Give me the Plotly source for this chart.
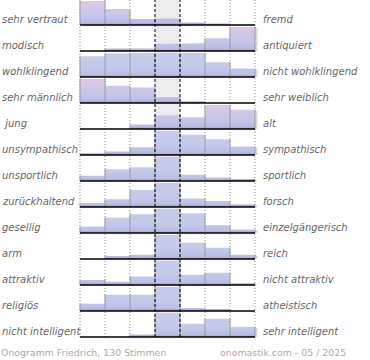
import plotly.graph_objects as go

left_labels = ["sehr vertraut", "modisch", "wohlklingend", "sehr männlich", " jung",
               "unsympathisch", "unsportlich", "zurückhaltend", "gesellig", "arm",
               "attraktiv", "religiös", "nicht intelligent"]
right_labels = ["fremd", "antiquiert", "nicht wohlklingend", "sehr weiblich", "alt",
                "sympathisch", "sportlich", "forsch", "einzelgängerisch", "reich",
                "nicht attraktiv", "atheistisch", "sehr intelligent"]
# relative shares per scale step (percent of the row's largest step)
values = [
    [100, 67, 25, 27, 10, 6, 0],
    [0, 10, 10, 29, 32, 53, 100],
    [86, 99, 100, 100, 100, 61, 35],
    [100, 72, 65, 24, 7, 0, 0],
    [0, 0, 19, 57, 49, 100, 80],
    [7, 15, 32, 100, 84, 66, 35],
    [22, 49, 57, 100, 26, 15, 8],
    [17, 32, 71, 100, 35, 25, 11],
    [27, 65, 78, 100, 82, 32, 15],
    [0, 12, 18, 100, 68, 47, 18],
    [21, 14, 35, 100, 43, 51, 7],
    [30, 68, 68, 100, 12, 8, 0],
    [0, 0, 10, 100, 55, 76, 43],
]
footer_left = "Onogramm Friedrich, 130 Stimmen"
footer_right = "onomastik.com - 05 / 2025"

n = len(values)
H = 24 / 26  # max bar height in row units
PX_L, PLOT_W = 78, 180
PLOT_H = 340
TOP = 337 / 26

fig = go.Figure()

shapes = [dict(type="rect", xref="x", yref="y", x0=3, x1=4, y0=0, y1=TOP,
               fillcolor="#ececec", line_width=0, layer="below")]
for gx in [0, 1, 2, 5, 6, 7]:
    shapes.append(dict(type="line", xref="x", yref="y", x0=gx, x1=gx, y0=0, y1=TOP,
                       line=dict(color="#8a8a8a", width=1, dash="1px,2px"), layer="below"))

ex, ey = [], []
sx, sy = [], []
for r, row in enumerate(values):
    base = n - 1 - r
    m = max(row)
    hs = [v / m * H for v in row]
    xs, ys = [0], [base]
    for k, h in enumerate(hs):
        xs += [k, k + 1]
        ys += [base + h, base + h]
    xs += [7, 0]
    ys += [base, base]
    pink = row[3] < m
    if pink:
        cs = [[0, "#9e90c8"], [0.1, "#bbbbe3"], [0.45, "#c6c8e9"], [1, "#e2c6e6"]]
    else:
        cs = [[0, "#9e90c8"], [0.1, "#bac0e5"], [0.45, "#c3caea"], [1, "#c6cdeb"]]
    fig.add_trace(go.Scatter(
        x=xs, y=ys, mode="lines", fill="toself", line=dict(width=0, color="rgba(0,0,0,0)"),
        fillgradient=dict(type="vertical", colorscale=cs, start=base, stop=base + H),
        hoverinfo="skip", showlegend=False))
    for k in range(8):
        left = hs[k - 1] if k > 0 else 0
        right = hs[k] if k < 7 else 0
        t = max(left, right)
        if t > 0:
            ex += [k, k, None]
            ey += [base, base + t, None]
    if hs[6] > 0:
        sx += [7 + 1.5 / 25, 7 + 1.5 / 25, None]
        sy += [base, base + hs[6] - 1 / 26, None]
    shapes.append(dict(type="line", xref="x", yref="y", x0=0, x1=7, y0=base, y1=base,
                       line=dict(color="black", width=1.5), layer="above"))

fig.add_trace(go.Scatter(x=sx, y=sy, mode="lines", line=dict(color="#d8d8d8", width=2),
                         hoverinfo="skip", showlegend=False))
fig.add_trace(go.Scatter(x=ex, y=ey, mode="lines", line=dict(color="#9a9a9a", width=1),
                         hoverinfo="skip", showlegend=False))

for gx in [3, 4]:
    shapes.append(dict(type="line", xref="x", yref="y", x0=gx, x1=gx, y0=0, y1=TOP,
                       line=dict(color="black", width=1, dash="3px,2px"), layer="above"))

label_font = dict(family="DejaVu Sans", size=10, color="#666666", style="italic")
annotations = []
for r in range(n):
    base = n - 1 - r
    yl = base + 5.5 / 26
    annotations.append(dict(x=(0 - PX_L) / PLOT_W, xref="paper", y=yl, yref="y",
                            text=left_labels[r], showarrow=False, xanchor="left",
                            yanchor="middle", font=label_font))
    annotations.append(dict(x=(261 - PX_L) / PLOT_W, xref="paper", y=yl, yref="y",
                            text=right_labels[r], showarrow=False, xanchor="left",
                            yanchor="middle", font=label_font))
foot_font = dict(family="DejaVu Sans", size=9.4, color="#aaaaaa")
annotations.append(dict(x=(-1 - PX_L) / PLOT_W, xref="paper", y=(PLOT_H - 352) / PLOT_H,
                        yref="paper", text=footer_left, showarrow=False, xanchor="left",
                        yanchor="middle", font=foot_font))
annotations.append(dict(x=(348 - PX_L) / PLOT_W, xref="paper", y=(PLOT_H - 352) / PLOT_H,
                        yref="paper", text=footer_right, showarrow=False, xanchor="right",
                        yanchor="middle", font=foot_font))

fig.update_layout(
    width=370, height=360,
    margin=dict(l=PX_L, r=370 - PX_L - PLOT_W, t=0, b=360 - PLOT_H),
    plot_bgcolor="white", paper_bgcolor="white",
    xaxis=dict(range=[-2 / 25, 7 + 3 / 25], visible=False, fixedrange=True),
    yaxis=dict(range=[-3 / 26, 337 / 26], visible=False, fixedrange=True),
    shapes=shapes, annotations=annotations, showlegend=False,
)
fig.write_html("out.html", config={"displayModeBar": False},
               post_script="document.body.style.margin='0';document.body.style.overflow='hidden';")
